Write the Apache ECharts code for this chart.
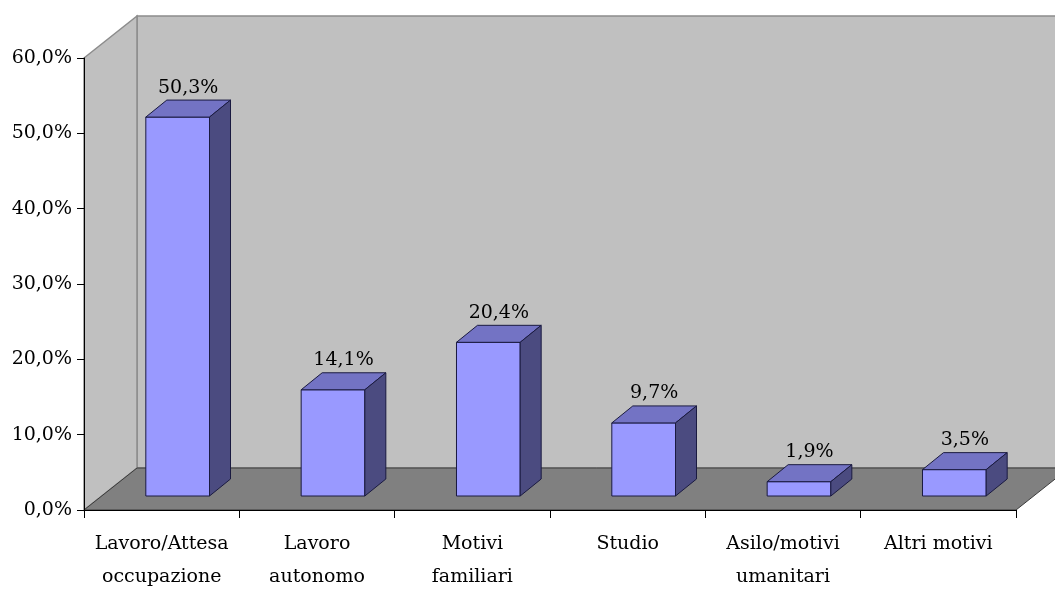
<!DOCTYPE html>
<html>
<head>
<meta charset="utf-8">
<script src="https://cdn.jsdelivr.net/npm/echarts@6/dist/echarts.min.js"></script>
<style>html,body{margin:0;padding:0;background:#fff;}#c{width:1055px;height:594px;}</style>
</head>
<body>
<div id="c"></div>
<script>
const categories = ['Lavoro/Attesa\noccupazione', 'Lavoro\nautonomo', 'Motivi\nfamiliari', 'Studio', 'Asilo/motivi\numanitari', 'Altri motivi'];
const values = [50.3, 14.1, 20.4, 9.7, 1.9, 3.5];
const yMin = 0, yMax = 60, yStep = 10;

const FONT = '"DejaVu Serif", serif';
const fmt = v => v.toFixed(1).replace('.', ',') + '%';

const DEPTH_X = 53, DEPTH_Y = 42;   // wall depth
const BAR_DX = 21, BAR_DY = 17;     // bar depth
const BAR_SHIFT_X = 16, BAR_SHIFT_Y = 14;

function renderWalls(params, api) {
  const cs = params.coordSys;
  const x = cs.x, y = cs.y, w = cs.width, h = cs.height;
  return {
    type: 'group',
    children: [
      { type: 'polygon', shape: { points: [[x + DEPTH_X, y - DEPTH_Y], [x + w + DEPTH_X + 20, y - DEPTH_Y], [x + w + DEPTH_X + 20, y + h - DEPTH_Y], [x + DEPTH_X, y + h - DEPTH_Y]] },
        style: { fill: '#c0c0c0', stroke: '#8c8c8c', lineWidth: 1.5 } },
      { type: 'polygon', shape: { points: [[x, y], [x + DEPTH_X, y - DEPTH_Y], [x + DEPTH_X, y + h - DEPTH_Y], [x, y + h]] },
        style: { fill: '#c0c0c0', stroke: '#8c8c8c', lineWidth: 1.5 } },
      { type: 'polygon', shape: { points: [[x, y + h], [x + DEPTH_X, y + h - DEPTH_Y], [x + w + DEPTH_X, y + h - DEPTH_Y], [x + w, y + h]] },
        style: { fill: '#808080', stroke: '#3a3a3a', lineWidth: 1 } }
    ]
  };
}

function renderBar(params, api) {
  const i = api.value(0), v = api.value(1);
  const base = api.coord([i, 0]);
  const top = api.coord([i, v]);
  const cw = api.size([1, 0])[0];
  const w = cw * 0.41;
  const cx = base[0] + BAR_SHIFT_X;
  const y0 = base[1] - BAR_SHIFT_Y, y1 = top[1] - BAR_SHIFT_Y;
  const x0 = cx - w / 2, x1 = cx + w / 2;
  const dx = BAR_DX, dy = BAR_DY;
  const edge = { stroke: '#1a1a40', lineWidth: 1, lineJoin: 'round' };
  return {
    type: 'group',
    children: [
      { type: 'polygon', shape: { points: [[x0, y0], [x0, y1], [x1, y1], [x1, y0]] }, style: Object.assign({ fill: '#9999ff' }, edge) },
      { type: 'polygon', shape: { points: [[x0, y1], [x0 + dx, y1 - dy], [x1 + dx, y1 - dy], [x1, y1]] }, style: Object.assign({ fill: '#7373c4' }, edge) },
      { type: 'polygon', shape: { points: [[x1, y1], [x1 + dx, y1 - dy], [x1 + dx, y0 - dy], [x1, y0]] }, style: Object.assign({ fill: '#4b4b80' }, edge) },
      { type: 'text', style: { text: fmt(v), x: cx + dx / 2, y: y1 - dy - 3, align: 'center', verticalAlign: 'bottom', fontSize: 19, fontFamily: FONT, fill: '#000' } }
    ]
  };
}

const chart = echarts.init(document.getElementById('c'), null, { renderer: 'canvas' });
chart.setOption({
  backgroundColor: '#ffffff',
  animation: false,
  grid: { left: 84, right: 39, top: 58, bottom: 80, containLabel: false },
  xAxis: {
    type: 'category',
    data: categories,
    boundaryGap: true,
    axisLine: { show: true, lineStyle: { color: '#000', width: 1 } },
    axisTick: { show: true, interval: 0, length: 8, lineStyle: { color: '#000' } },
    axisLabel: { interval: 0, margin: 18, lineHeight: 33, fontSize: 19, fontFamily: FONT, color: '#000' },
    splitLine: { show: false }
  },
  yAxis: {
    type: 'value',
    min: yMin, max: yMax, interval: yStep,
    axisLine: { show: true, lineStyle: { color: '#000', width: 1 } },
    axisTick: { show: true, length: 7, lineStyle: { color: '#000' } },
    axisLabel: { margin: 12, fontSize: 19, fontFamily: FONT, color: '#000', formatter: fmt },
    splitLine: { show: false }
  },
  series: [
    { type: 'custom', z: -1, clip: false, silent: true, renderItem: renderWalls, data: [[0, 0]] },
    { type: 'custom', z: 5, clip: false, renderItem: renderBar, data: values.map((v, i) => [i, v]) }
  ]
});
</script>
</body>
</html>
